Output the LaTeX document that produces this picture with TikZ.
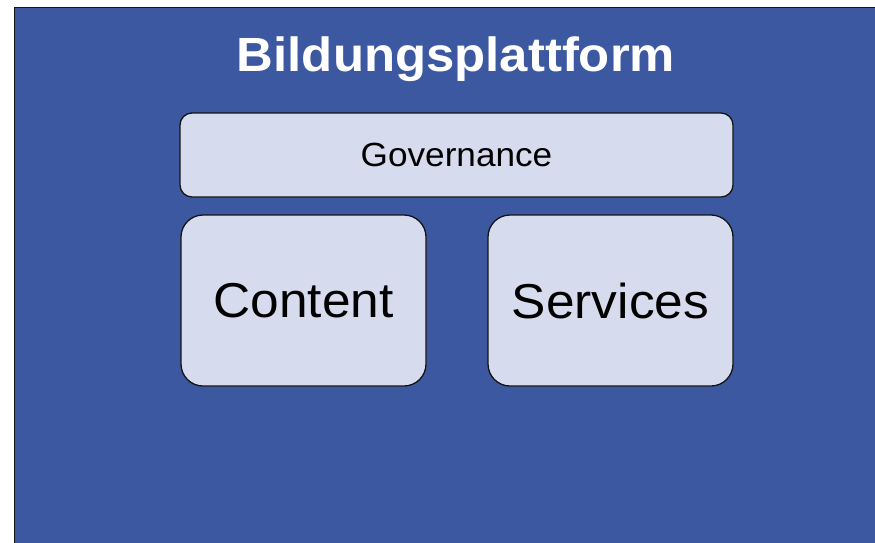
\documentclass[tikz,border=0pt]{standalone}
\usepackage{fontspec}
\setmainfont{Liberation Sans}
\usepackage{graphicx}
\definecolor{platformblue}{RGB}{59,88,160}
\definecolor{modulefill}{RGB}{214,220,238}
\definecolor{edgedark}{RGB}{20,20,20}
\begin{document}
\begin{tikzpicture}[x=1pt,y=-1pt,
  module/.style={draw=edgedark, line width=1.3pt, fill=modulefill, inner sep=0pt, text=black},
  govbox/.style={module, rounded corners=12pt, minimum width=553pt, minimum height=84pt,
    font=\fontsize{33.5}{40}\selectfont},
  partbox/.style={module, rounded corners=22pt, minimum width=245pt, minimum height=171pt,
    font=\fontsize{49}{58}\selectfont},
  titletext/.style={text=white, inner sep=0pt, font=\bfseries\fontsize{48}{56}\selectfont}
]
\useasboundingbox (0,0) rectangle (875,542);
\clip (0,0) rectangle (875,542);
% platform frame, running off the right and bottom edges
\fill[white] (0,0) rectangle (875,542);
\draw[draw=edgedark, line width=1.5pt, fill=platformblue] (14.5,7.5) rectangle (900,570);
% heading
\node[titletext, anchor=base] (title) at (456,71) {\scalebox{1.06}[1]{Bildungsplattform}};
% modules
\node[govbox] (gov) at (456.5,155) {\scalebox{1.05}[1]{Governance}};
\node[partbox] (content) at (303.5,300.5) {\scalebox{1.05}[1]{Content}};
\node[partbox] (services) at (610.5,300.5) {\scalebox{1.05}[1]{Services}};
\end{tikzpicture}
\end{document}
